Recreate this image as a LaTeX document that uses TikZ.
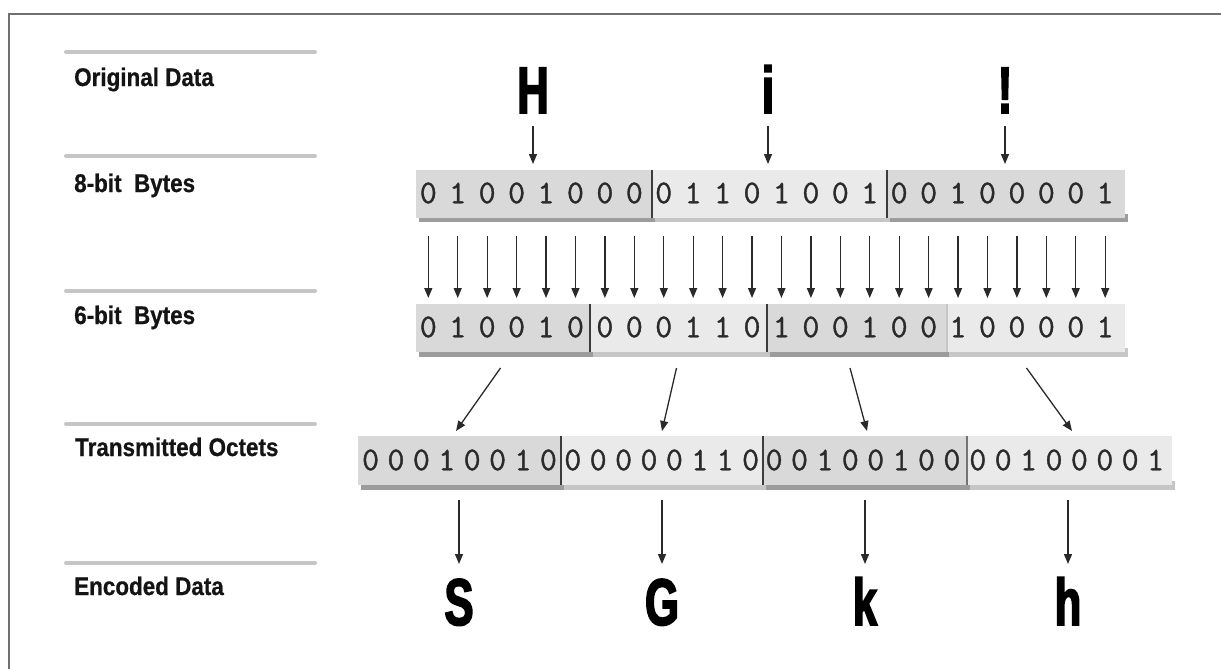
\documentclass[tikz,border=0pt]{standalone}
\usepackage{fontspec}
\usetikzlibrary{arrows.meta}
\newfontfamily\labfont{Liberation Sans}[FakeStretch=0.88,FakeBold=0.6]
\newfontfamily\bigfont{Liberation Sans}[FakeStretch=0.66,FakeBold=2.5]
\newfontfamily\digfont{Latin Modern Mono}[FakeBold=1.2]
\definecolor{framec}{HTML}{707070}
\definecolor{rulec}{HTML}{C6C6C6}
\definecolor{segdark}{HTML}{D9D9D9}
\definecolor{seglight}{HTML}{EAEAEA}
\definecolor{shdark}{HTML}{9C9C9C}
\definecolor{shlight}{HTML}{C6C6C6}
\definecolor{arrc}{HTML}{2A2A2A}
\definecolor{digc}{HTML}{2A2A2A}
\definecolor{sepc}{HTML}{3C3C3C}
\tikzset{
  lab/.style={anchor=base west, inner sep=0pt, font=\labfont\bfseries\fontsize{25.5}{25.5}\selectfont, text=black!92},
  big/.style={anchor=base, inner sep=0pt, font=\bigfont\bfseries\fontsize{66}{66}\selectfont},
  dig/.style={inner sep=0pt, font=\digfont\fontsize{33}{33}\selectfont, text=digc},
  arr/.style={draw=arrc, line width=1.3pt, -{Triangle[length=10pt,width=8pt]}},
  rulel/.style={draw=rulec, line width=4pt, line cap=round},
  sepl/.style={draw=sepc, line width=1.3pt},
  framel/.style={draw=framec, line width=2.5pt}
}
\begin{document}
\begin{tikzpicture}[x=1pt,y=-1pt]
\useasboundingbox (0,0) rectangle (1221,669);
% frame
\draw[framel] (9,669) -- (9,14) -- (1221,14);
% label rules and labels
\foreach \yy in {52,156,291,424,563} \draw[rulel] (66,\yy) -- (315,\yy);
\node[lab] (l1) at (74,86) {Original Data};
\node[lab] (l2) at (74,192) {8-bit\ \ Bytes};
\node[lab] (l3) at (74,324) {6-bit\ \ Bytes};
\node[lab] (l4) at (75,456) {Transmitted Octets};
\node[lab] (l5) at (74,595) {Encoded Data};
% original letters
\node[big] (H) at (533,113) {H};
\node[big] (I) at (768,113) {i};
\node[big] (Ex) at (1005,113) {!};
% 8-bit bar
\foreach \xa/\xb/\sh in {416/652/shdark,652/887/shlight,887/1125/shdark}
  \fill[\sh] (\xa+3,214) rectangle (\xb+3,222);
\foreach \xa/\xb/\col in {416/652/segdark,652/887/seglight,887/1125/segdark}
  \fill[\col] (\xa,170) rectangle (\xb,218);
\foreach \xx in {652,887} \draw[sepl] (\xx,170) -- (\xx,218);
\foreach \d [count=\k from 0] in {0,1,0,0,1,0,0,0,0,1,1,0,1,0,0,1,0,0,1,0,0,0,0,1}
  \node[dig] (e\k) at ({428.3+29.43*\k},193) {\d};
% 6-bit bar
\foreach \xa/\xb/\sh in {416/590/shdark,590/767/shlight,767/946/shdark,946/1125/shlight}
  \fill[\sh] (\xa+3,348) rectangle (\xb+3,357);
\foreach \xa/\xb/\col in {416/590/segdark,590/767/seglight,767/946/segdark,946/1125/seglight}
  \fill[\col] (\xa,304) rectangle (\xb,352);
\foreach \xx in {590,767} \draw[sepl] (\xx,304) -- (\xx,352);
\draw[draw=shlight, line width=2pt] (947,304) -- (947,352);
\foreach \d [count=\k from 0] in {0,1,0,0,1,0,0,0,0,1,1,0,1,0,0,1,0,0,1,0,0,0,0,1}
  \node[dig] (s\k) at ({428.3+29.43*\k},327) {\d};
% transmitted bar
\foreach \xa/\xb/\sh in {358/561/shdark,561/763/shlight,763/967/shdark,967/1172/shlight}
  \fill[\sh] (\xa+3,481) rectangle (\xb+3,490);
\foreach \xa/\xb/\col in {358/561/segdark,561/763/seglight,763/967/segdark,967/1172/seglight}
  \fill[\col] (\xa,436) rectangle (\xb,485);
\foreach \xx in {561,763} \draw[sepl] (\xx,436) -- (\xx,485);
\draw[draw=black!55, line width=1.5pt] (967,436) -- (967,485);
\foreach \cx/\bits [count=\b] in {459.5/{0,0,0,1,0,0,1,0},661.7/{0,0,0,0,0,1,1,0},863/{0,0,1,0,0,1,0,0},1066.7/{0,0,1,0,0,0,0,1}}
  \foreach \d [count=\k from 0] in \bits
    \node[dig] (t\b-\k) at ({\cx+(\k-3.5)*25.4},460) {\d};
% arrows: letters to bytes
\foreach \xx/\nm in {533/a,768/b,1005/c} {
  \coordinate (o\nm) at (\xx,126);
  \coordinate (p\nm) at (\xx,164);
  \draw[arr] (o\nm) -- (p\nm);
}
% arrows: bits
\foreach \k in {0,...,23} {
  \coordinate (u\k) at ({428.3+29.43*\k},236);
  \coordinate (v\k) at ({428.3+29.43*\k},298);
  \draw[arr] (u\k) -- (v\k);
}
% arrows: 6-bit to octets
\coordinate (q1) at (500.5,368); \coordinate (r1) at (456,431);
\coordinate (q2) at (676.5,368); \coordinate (r2) at (662,431);
\coordinate (q3) at (850,368);   \coordinate (r3) at (867,431);
\coordinate (q4) at (1026.5,368);\coordinate (r4) at (1072,431);
\foreach \i in {1,...,4} \draw[arr] (q\i) -- (r\i);
% encoded letters
\node[big] (S) at (459,625) {S};
\node[big] (G) at (662,625) {G};
\node[big] (K) at (865,625) {k};
\node[big] (Hh) at (1068,625) {h};
\foreach \xx/\nm in {459/S,662/G,865/K,1068/Hh} {
  \coordinate (w\nm) at (\xx,500);
  \coordinate (z\nm) at (\xx,564);
  \draw[arr] (w\nm) -- (z\nm);
}
\end{tikzpicture}
\end{document}
